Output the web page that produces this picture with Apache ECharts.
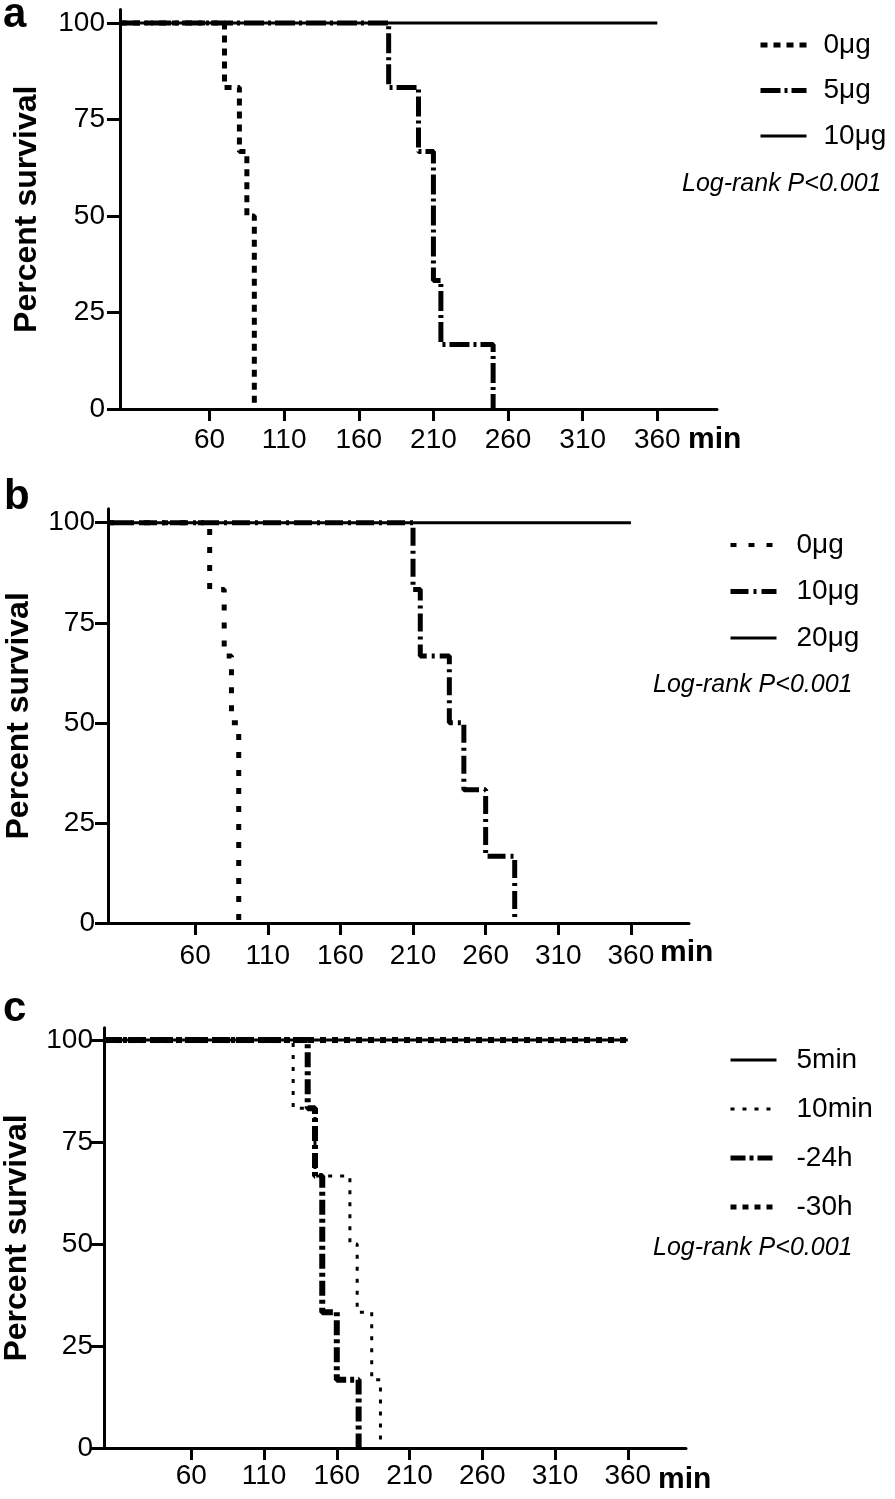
<!DOCTYPE html>
<html>
<head>
<meta charset="utf-8">
<script src="https://cdn.jsdelivr.net/npm/echarts@6/dist/echarts.min.js"></script>
<style>
  html, body { margin: 0; padding: 0; background: #fff; }
  #chart { width: 895px; height: 1499px; }
</style>
</head>
<body>
<div id="chart"></div>
<script>
// x ticks (min) and y ticks (percent survival)
const xTicks = [60, 110, 160, 210, 260, 310, 360];
const yTicks = [0, 25, 50, 75, 100];

// panel a
const timeA0 = [0, 70, 80, 85, 90];
const survA0 = [100, 83.3, 66.7, 50, 0];
const timeA5 = [0, 180, 200, 210, 215, 250];
const survA5 = [100, 83.3, 66.7, 33.3, 16.7, 0];
const timeA10 = [0, 360];
const survA10 = [100, 100];

// panel b
const timeB0 = [0, 70, 80, 85, 90];
const survB0 = [100, 83.3, 66.7, 50, 0];
const timeB10 = [0, 210, 215, 235, 245, 260, 280];
const survB10 = [100, 83.3, 66.7, 50, 33.3, 16.7, 0];
const timeB20 = [0, 360];
const survB20 = [100, 100];

// panel c
const timeC5m = [0, 360];
const survC5m = [100, 100];
const timeC10m = [0, 130, 145, 169, 174, 184, 190];
const survC10m = [100, 83.3, 66.7, 50, 33.3, 16.7, 0];
const timeC24 = [0, 140, 145, 150, 160, 175];
const survC24 = [100, 83.3, 66.7, 33.3, 16.7, 0];
const timeC30 = [0, 360];
const survC30 = [100, 100];

const chart = echarts.init(document.getElementById('chart'), null, { renderer: 'canvas' });

function pts(t, s) {
  return t.map((v, i) => [v, s[i]]);
}

function km(name, idx, t, s, width, dash) {
  return {
    name: name,
    type: 'line',
    step: 'end',
    symbol: 'none',
    xAxisIndex: idx,
    yAxisIndex: idx,
    silent: true,
    lineStyle: { color: '#000', width: width, type: dash },
    itemStyle: { color: '#000' },
    data: pts(t, s)
  };
}

// panel layout: [left, top, width, height, yMax, yLabelMargin, xLabelMargin, nameGap]
const panels = [
  [120, 9.5, 597, 399.5, 103.5, 15, 17, 77],
  [108, 508.7, 581, 414.3, 103.5, 13, 19, 73],
  [104, 1027.8, 582, 420.2, 103, 11, 14, 71]
];

const tickFont = { color: '#000', fontFamily: 'Liberation Sans', fontSize: 28 };

const grids = [], xAxes = [], yAxes = [];
panels.forEach((p, i) => {
  grids.push({ left: p[0], top: p[1], width: p[2], height: p[3], outerBoundsMode: 'none', containLabel: false });
  xAxes.push({
    type: 'value', gridIndex: i, min: 0, max: 400,
    axisLine: { onZero: false, lineStyle: { color: '#000', width: 3 } },
    axisTick: { customValues: xTicks, length: 12, lineStyle: { color: '#000', width: 3 } },
    axisLabel: Object.assign({ customValues: xTicks, margin: p[6] }, tickFont),
    splitLine: { show: false }
  });
  yAxes.push({
    type: 'value', gridIndex: i, min: 0, max: p[4],
    name: 'Percent survival', nameLocation: 'middle', nameGap: p[7], nameRotate: 90,
    nameTextStyle: { color: '#000', fontFamily: 'Liberation Sans', fontWeight: 'bold', fontSize: 32 },
    axisLine: { show: true, onZero: false, lineStyle: { color: '#000', width: 3 } },
    axisTick: { show: true, customValues: yTicks, length: 13, lineStyle: { color: '#000', width: 3 } },
    axisLabel: Object.assign({ customValues: yTicks, margin: p[5] }, tickFont),
    splitLine: { show: false }
  });
});

// legend entries: [name, line width]
function legend(items, left, top, gap, pad) {
  return {
    data: items.map(it => ({ name: it[0], lineStyle: { width: it[1] } })),
    orient: 'vertical', left: left, top: top,
    itemWidth: 46, itemHeight: 14, itemGap: gap, selectedMode: false,
    itemStyle: { opacity: 0 },
    formatter: n => n.split('|')[1],
    textStyle: { color: '#000', fontFamily: 'Liberation Sans', fontSize: 28, lineHeight: 30, padding: [0, 0, 0, pad] }
  };
}

const option = {
  animation: false,
  backgroundColor: '#fff',
  grid: grids,
  xAxis: xAxes,
  yAxis: yAxes,
  legend: [
    legend([['a|0μg', 5], ['a|5μg', 5], ['a|10μg', 3]], 753, 25, 15.5, 12),
    legend([['b|0μg', 4], ['b|10μg', 5], ['b|20μg', 3]], 723, 525, 16.5, 15),
    legend([['c|5min', 3], ['c|10min', 3], ['c|-24h', 5], ['c|-30h', 5]], 723, 1040, 19, 15)
  ],
  graphic: [
    { type: 'text', x: 3, y: 15, silent: true, style: { text: 'a', fill: '#000', font: 'bold 42px "Liberation Sans"', verticalAlign: 'middle' } },
    { type: 'text', x: 4, y: 497, silent: true, style: { text: 'b', fill: '#000', font: 'bold 42px "Liberation Sans"', verticalAlign: 'middle' } },
    { type: 'text', x: 3, y: 1009, silent: true, style: { text: 'c', fill: '#000', font: 'bold 42px "Liberation Sans"', verticalAlign: 'middle' } },
    { type: 'text', x: 688, y: 440, silent: true, style: { text: 'min', fill: '#000', font: 'bold 30px "Liberation Sans"', verticalAlign: 'middle' } },
    { type: 'text', x: 660, y: 953, silent: true, style: { text: 'min', fill: '#000', font: 'bold 30px "Liberation Sans"', verticalAlign: 'middle' } },
    { type: 'text', x: 658, y: 1480, silent: true, style: { text: 'min', fill: '#000', font: 'bold 30px "Liberation Sans"', verticalAlign: 'middle' } },
    { type: 'text', x: 682, y: 184, silent: true, style: { text: 'Log-rank P<0.001', fill: '#000', font: 'italic 25px "Liberation Sans"', verticalAlign: 'middle' } },
    { type: 'text', x: 653, y: 685, silent: true, style: { text: 'Log-rank P<0.001', fill: '#000', font: 'italic 25px "Liberation Sans"', verticalAlign: 'middle' } },
    { type: 'text', x: 653, y: 1248, silent: true, style: { text: 'Log-rank P<0.001', fill: '#000', font: 'italic 25px "Liberation Sans"', verticalAlign: 'middle' } }
  ],
  series: [
    km('a|10μg', 0, timeA10, survA10, 3, 'solid'),
    km('a|0μg', 0, timeA0, survA0, 5, [7, 6]),
    km('a|5μg', 0, timeA5, survA5, 5, [20, 4, 3, 4]),

    km('b|20μg', 1, timeB20, survB20, 3, 'solid'),
    km('b|0μg', 1, timeB0, survB0, 5, [6, 12]),
    km('b|10μg', 1, timeB10, survB10, 5, [18, 5, 3, 5]),

    km('c|5min', 2, timeC5m, survC5m, 3, 'solid'),
    km('c|-30h', 2, timeC30, survC30, 6, [6, 6]),
    km('c|10min', 2, timeC10m, survC10m, 3, [4, 8]),
    km('c|-24h', 2, timeC24, survC24, 6, [15, 4, 4, 4])
  ]
};

chart.setOption(option);
</script>
</body>
</html>
